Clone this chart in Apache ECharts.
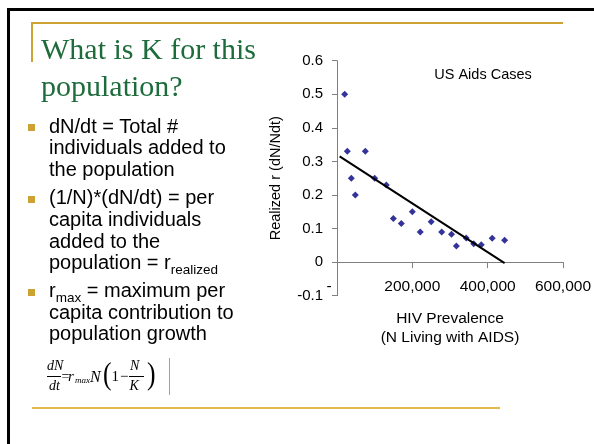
<!DOCTYPE html>
<html>
<head>
<meta charset="utf-8">
<script src="https://cdn.jsdelivr.net/npm/echarts@6/dist/echarts.min.js"></script>
<style>
  html, body { margin: 0; padding: 0; background: #fff; }
  #slide { position: relative; width: 594px; height: 444px; overflow: hidden; background: #fff; }
  #chart { position: absolute; left: 0; top: 0; width: 594px; height: 444px; }
  .abs { position: absolute; white-space: nowrap; }
  .title { font-family: "Liberation Serif", serif; font-size: 30px; line-height: 37px; color: #1e6b3c; left: 41px; top: 30px; }
  .bul { font-family: "Liberation Sans", Arial, sans-serif; font-size: 20px; line-height: 21.7px; color: #000; left: 49px; }
  .bul sub { font-size: 13.5px; vertical-align: -5px; line-height: 0; }
  .sq { position: absolute; width: 7px; height: 7px; background: #cca233; left: 28px; }
  .f { position: absolute; font-family: "Liberation Serif", serif; font-style: italic; color: #000; line-height: 1; white-space: nowrap; }
</style>
</head>
<body>
<div id="slide">
  <div id="chart"></div>

  <!-- slide frame -->
  <div class="abs" style="left:7px;top:8px;width:587px;height:3px;background:#000;"></div>
  <div class="abs" style="left:7px;top:8px;width:3px;height:436px;background:#000;"></div>
  <div class="abs" style="left:31px;top:22px;width:532px;height:2px;background:#cda434;"></div>
  <div class="abs" style="left:31px;top:22px;width:2px;height:40px;background:#cda434;"></div>
  <div class="abs" style="left:32px;top:407px;width:468px;height:2px;background:#e2bb4c;"></div>

  <div class="abs title">What is K for this<br>population?</div>

  <div class="sq" style="top:124px;"></div>
  <div class="abs bul" style="top:115.5px;">dN/dt = Total #<br>individuals added to<br>the population</div>
  <div class="sq" style="top:196px;"></div>
  <div class="abs bul" style="top:187.2px;">(1/N)*(dN/dt) = per<br>capita individuals<br>added to the<br>population = r<sub>realized</sub></div>
  <div class="sq" style="top:289px;"></div>
  <div class="abs bul" style="top:279.9px;">r<sub>max</sub> = maximum per<br>capita contribution to<br>population growth</div>

  <!-- formula: dN/dt = r_max N (1 - N/K) -->
  <div class="f" style="left:47px;top:358.5px;font-size:14px;">dN</div>
  <div class="abs" style="left:47px;top:376px;width:14px;height:1px;background:#000;"></div>
  <div class="f" style="left:49px;top:379.3px;font-size:14px;">dt</div>
  <div class="f" style="left:61.5px;top:370px;font-size:14px;font-style:normal;">=</div>
  <div class="f" style="left:68px;top:369.4px;font-size:15px;">r</div>
  <div class="f" style="left:75px;top:375.5px;font-size:9px;">max</div>
  <div class="f" style="left:90px;top:368.6px;font-size:16px;">N</div>
  <div class="f" style="left:102px;top:357.2px;font-size:32px;font-style:normal;transform:scaleX(0.8);">(</div>
  <div class="f" style="left:111.5px;top:369.4px;font-size:15px;font-style:normal;">1</div>
  <div class="f" style="left:120px;top:369.4px;font-size:15px;font-style:normal;">&minus;</div>
  <div class="f" style="left:130px;top:359px;font-size:14px;">N</div>
  <div class="abs" style="left:129px;top:376px;width:15px;height:1px;background:#000;"></div>
  <div class="f" style="left:129.5px;top:379.3px;font-size:14px;">K</div>
  <div class="f" style="left:146px;top:357.2px;font-size:32px;font-style:normal;transform:scaleX(0.8);">)</div>
  <div class="abs" style="left:169px;top:358px;width:1px;height:37px;background:#f08080;"></div>
</div>

<script>
// HIV prevalence (N living with AIDS) and realized growth rate
const prevalence = [20400, 27400, 38000, 48700, 75200, 100000, 131000, 149600, 170800, 200000,
                    221000, 250000, 278000, 304000, 317000, 343000, 363000, 383000, 412000, 445000];
const realizedR = [0.50, 0.33, 0.25, 0.20, 0.33, 0.25, 0.23, 0.13, 0.115, 0.15,
                   0.09, 0.12, 0.09, 0.083, 0.048, 0.072, 0.055, 0.052, 0.071, 0.065];
// linear trend line endpoints
const trendX = [7000, 445000];
const trendY = [0.315, -0.003];
// axis ticks
const xTicks = [0, 200000, 400000, 600000];
const yTicks = [-0.1, 0, 0.1, 0.2, 0.3, 0.4, 0.5, 0.6];

const chart = echarts.init(document.getElementById('chart'));
const font = '"Liberation Sans", Arial, sans-serif';
const axisGray = '#808080';

chart.setOption({
  animation: false,
  title: {
    text: 'US Aids Cases',
    left: 478,
    top: 62,
    textAlign: 'center',
    textStyle: { fontFamily: font, fontSize: 14.5, fontWeight: 'normal', color: '#000' }
  },
  grid: { left: 337, top: 60.7, right: 28.7, bottom: 148.3, containLabel: false },
  xAxis: {
    type: 'value',
    min: xTicks[0],
    max: xTicks[xTicks.length - 1],
    interval: xTicks[1] - xTicks[0],
    name: 'HIV Prevalence\n(N Living with AIDS)',
    nameLocation: 'middle',
    nameGap: 14,
    nameTextStyle: { fontFamily: font, fontSize: 15.5, color: '#000', lineHeight: 19 },
    axisLine: { onZero: true, lineStyle: { color: axisGray, width: 1 } },
    axisTick: { inside: false, length: 6, lineStyle: { color: axisGray } },
    axisLabel: {
      margin: -17,
      fontFamily: font, fontSize: 15.5, color: '#000',
      formatter: v => v === 0 ? '{z|-}' : String(v).replace(/\B(?=(\d{3})+(?!\d))/g, ','),
      rich: { z: { fontFamily: font, fontSize: 15.5, color: '#000', padding: [0, 16, 0, 0] } }
    },
    splitLine: { show: false }
  },
  yAxis: {
    type: 'value',
    min: yTicks[0],
    max: yTicks[yTicks.length - 1],
    interval: yTicks[2] - yTicks[1],
    name: 'Realized r (dN/Ndt)',
    nameLocation: 'middle',
    nameGap: 54,
    nameTextStyle: { fontFamily: font, fontSize: 14.5, color: '#000' },
    axisLine: { show: true, onZero: false, lineStyle: { color: axisGray, width: 1 } },
    axisTick: { show: true, inside: false, length: 5, lineStyle: { color: axisGray } },
    axisLabel: {
      margin: 14,
      fontFamily: font, fontSize: 15, color: '#000',
      formatter: v => Math.abs(v) < 1e-9 ? '0' : v.toFixed(1)
    },
    splitLine: { show: false }
  },
  series: [
    {
      type: 'scatter',
      symbol: 'diamond',
      symbolSize: 7,
      itemStyle: { color: '#000080' },
      data: prevalence.map((x, i) => [x, realizedR[i]])
    },
    {
      type: 'line',
      symbol: 'none',
      lineStyle: { color: '#000', width: 2 },
      data: trendX.map((x, i) => [x, trendY[i]])
    }
  ]
});
</script>
</body>
</html>
